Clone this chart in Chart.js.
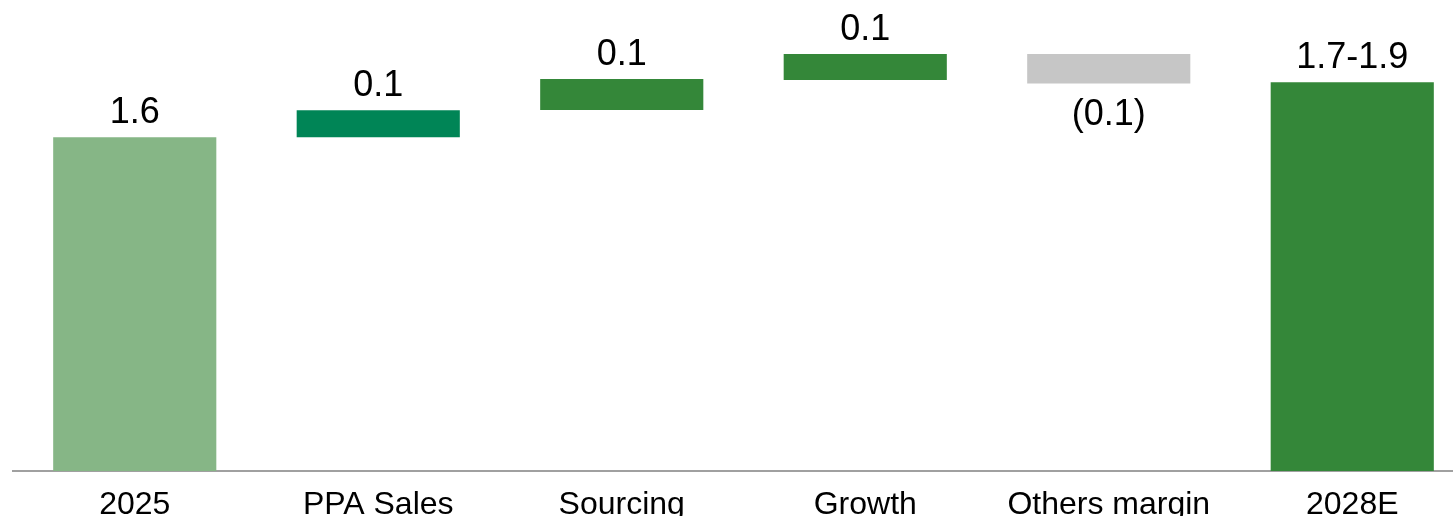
<!DOCTYPE html>
<html>
<head>
<meta charset="utf-8">
<script src="https://cdn.jsdelivr.net/npm/chart.js@4.4.1/dist/chart.umd.min.js"></script>
<style>
  html, body { margin: 0; padding: 0; background: #fff; overflow: hidden; }
  #wrap { width: 1453px; height: 516px; overflow: hidden; position: relative; }
  canvas { position: absolute; left: 0; top: 0; }
</style>
</head>
<body>
<div id="wrap"><canvas id="chart" width="1474" height="516"></canvas></div>
<script>
const categories = ['2025', 'PPA Sales', 'Sourcing', 'Growth', 'Others margin', '2028E'];
const barLows  = [0,   1.60, 1.731, 1.874, 1.858, 0];
const barHighs = [1.6, 1.73, 1.879, 1.999, 1.999, 1.864];
const valueLabels = ['1.6', '0.1', '0.1', '0.1', '(0.1)', '1.7-1.9'];
const barColors = ['#86b686', '#008556', '#348739', '#348739', '#c6c6c6', '#348739'];

const FONT = '"Liberation Sans", Arial, sans-serif';

// labels above rising bars, below the falling one
const waterfallLabels = {
  id: 'waterfallLabels',
  afterDatasetsDraw(chart) {
    const ctx = chart.ctx;
    const meta = chart.getDatasetMeta(0);
    ctx.save();
    ctx.font = '36px ' + FONT;
    ctx.fillStyle = '#000';
    ctx.textAlign = 'center';
    ctx.textBaseline = 'alphabetic';
    meta.data.forEach((bar, i) => {
      const falling = valueLabels[i].startsWith('(');
      if (falling) {
        ctx.fillText(valueLabels[i], bar.x, bar.base + 42);
      } else {
        ctx.fillText(valueLabels[i], bar.x, bar.y - 14);
      }
    });
    ctx.restore();
  }
};

new Chart(document.getElementById('chart'), {
  type: 'bar',
  data: {
    labels: categories,
    datasets: [{
      data: categories.map((c, i) => [barLows[i], barHighs[i]]),
      backgroundColor: barColors,
      borderWidth: 0,
      categoryPercentage: 1,
      barPercentage: 0.67
    }]
  },
  options: {
    responsive: false,
    animation: false,
    layout: { padding: { left: 13, right: 0, top: 0, bottom: 0 } },
    plugins: { legend: { display: false }, tooltip: { enabled: false } },
    scales: {
      x: {
        grid: { display: false, drawTicks: false },
        border: { display: true, color: '#a0a0a0', width: 2 },
        ticks: { color: '#000', font: { family: FONT, size: 32 }, padding: 15, maxRotation: 0, autoSkip: false },
        afterFit: (scale) => { scale.height = 45; }
      },
      y: {
        display: false,
        min: 0,
        max: 2.258
      }
    }
  },
  plugins: [waterfallLabels]
});
</script>
</body>
</html>
